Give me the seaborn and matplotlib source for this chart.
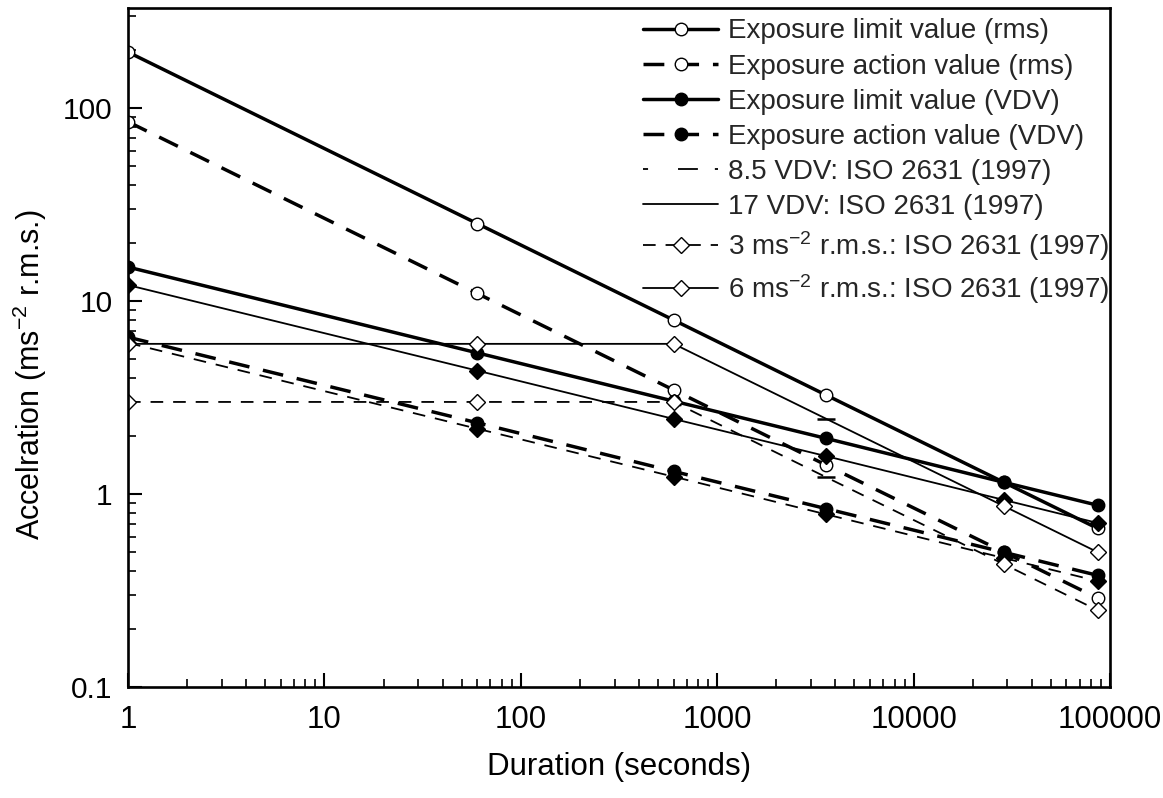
import numpy as np
import pandas as pd
import matplotlib
matplotlib.use("Agg")
import matplotlib.pyplot as plt
import seaborn as sns
from matplotlib.lines import Line2D
from matplotlib.ticker import FixedLocator, FixedFormatter, NullFormatter, LogLocator

# ---------------- data ----------------
durations = [1, 60, 600, 3600, 28800, 86400]

elv_rms = [195, 25.2, 7.97, 3.25, 1.15, 0.664]
eav_rms = [84.9, 10.95, 3.46, 1.41, 0.50, 0.289]
elv_vdv = [15.0, 5.39, 3.03, 1.94, 1.15, 0.875]
eav_vdv = [6.5, 2.34, 1.31, 0.839, 0.499, 0.379]
iso_vdv_85 = [6.07, 2.18, 1.23, 0.784, 0.466, 0.354]
iso_vdv_17 = [12.1, 4.36, 2.45, 1.57, 0.932, 0.708]
iso_rms_3 = [3, 3, 3, 1.22, 0.433, 0.25]
iso_rms_6 = [6, 6, 6, 2.45, 0.866, 0.5]

labels = [
    "Exposure limit value (rms)",
    "Exposure action value (rms)",
    "Exposure limit value (VDV)",
    "Exposure action value (VDV)",
    "8.5 VDV: ISO 2631 (1997)",
    "17 VDV: ISO 2631 (1997)",
    "3 ms$^{-2}$ r.m.s.: ISO 2631 (1997)",
    "6 ms$^{-2}$ r.m.s.: ISO 2631 (1997)",
]

xtick_vals = [1, 10, 100, 1000, 10000, 100000]
xtick_labels = ["1", "10", "100", "1000", "10000", "100000"]
ytick_vals = [0.1, 1, 10, 100]
ytick_labels = ["0.1", "1", "10", "100"]

# ---------------- style ----------------
sns.set_theme(style="white")
plt.rcParams["font.family"] = ["Liberation Sans", "DejaVu Sans"]
plt.rcParams["mathtext.default"] = "regular"

W, H = 1163, 798
fig = plt.figure(figsize=(W / 100, H / 100), dpi=100)
L, R, T, B = 128, 1110, 8, 687
ax = fig.add_axes([L / W, 1 - B / H, (R - L) / W, (B - T) / H])
ax.set_xscale("log")
ax.set_yscale("log")
ax.set_xlim(1, 100000)
ax.set_ylim(0.1, 330)

THICK, THIN = 2.5, 1.3
DASH_THICK = (0, (6, 4))
DASH_THIN = (0, (7, 5.5))
MS_C, MS_D = 9, 8.2

specs = [
    (elv_rms, "-", THICK, "o", "white", MS_C, None),
    (eav_rms, DASH_THICK, THICK, "o", "white", MS_C, None),
    (elv_vdv, "-", THICK, "o", "black", MS_C, None),
    (eav_vdv, DASH_THICK, THICK, "o", "black", MS_C, None),
    (iso_vdv_85, DASH_THIN, THIN, "D", "black", MS_D, None),
    (iso_vdv_17, "-", THIN, "D", "black", MS_D, None),
    (iso_rms_3, DASH_THIN, THIN, "D", "white", MS_D, [0, 1, 2, 4, 5]),
    (iso_rms_6, "-", THIN, "D", "white", MS_D, [0, 1, 2, 4, 5]),
]

for vals, ls, lw, mk, mfc, ms, mev in specs:
    kw = dict(markevery=mev) if mev is not None else {}
    sns.lineplot(x=durations, y=vals, ax=ax, color="black", linestyle=ls,
                 linewidth=lw, marker=mk, markersize=ms, markerfacecolor=mfc,
                 markeredgecolor="black", markeredgewidth=1.0,
                 estimator=None, sort=False, legend=False, **kw)

# bar markers at 3600 s on the ISO r.m.s. lines
for vals in (iso_rms_3, iso_rms_6):
    ax.plot([durations[3]], [vals[3]], linestyle="none", marker="_",
            markersize=13, markeredgewidth=1.8, color="black")

# ---------------- axes ----------------
ax.xaxis.set_major_locator(FixedLocator(xtick_vals))
ax.xaxis.set_major_formatter(FixedFormatter(xtick_labels))
ax.xaxis.set_minor_locator(LogLocator(base=10, subs=np.arange(2, 10)))
ax.xaxis.set_minor_formatter(NullFormatter())
ax.yaxis.set_major_locator(FixedLocator(ytick_vals))
ax.yaxis.set_major_formatter(FixedFormatter(ytick_labels))
ax.yaxis.set_minor_locator(LogLocator(base=10, subs=np.arange(2, 10)))
ax.yaxis.set_minor_formatter(NullFormatter())

ax.tick_params(which="both", direction="in", top=False, right=False,
               left=True, bottom=True, colors="black")
ax.tick_params(which="major", length=10, width=1.5)
ax.tick_params(which="minor", length=5.5, width=1.2)
ax.tick_params(axis="x", which="major", pad=13, labelsize=22.5)
ax.tick_params(axis="y", which="major", pad=11, labelsize=21.5)

for sp in ax.spines.values():
    sp.set_color("black")
    sp.set_linewidth(1.9)
    sp.set_visible(True)

ax.set_xlabel("Duration (seconds)", fontsize=22.5, color="black")
ax.set_ylabel("Accelration (ms$^{-2}$ r.m.s.)", fontsize=22, color="black")
ax.xaxis.set_label_coords(0.5, -0.096)
ax.yaxis.set_label_coords(-0.08, 0.46)
ax.grid(False)

# ---------------- legend ----------------
handles = []
leg_specs = [
    ("-", THICK, "o", "white", MS_C),
    (DASH_THICK, THICK, "o", "white", MS_C),
    ("-", THICK, "o", "black", MS_C),
    (DASH_THICK, THICK, "o", "black", MS_C),
    ((0, (2.8, 16.6, 11.0, 9.4, 2.4, 60)), THIN, "None", "black", MS_D),
    ("-", THIN, "None", "black", MS_D),
    (DASH_THIN, THIN, "D", "white", MS_D),
    ("-", THIN, "D", "white", MS_D),
]
for ls, lw, mk, mfc, ms in leg_specs:
    handles.append(Line2D([], [], color="black", linestyle=ls, linewidth=lw,
                          marker=mk, markersize=ms, markerfacecolor=mfc,
                          markeredgecolor="black", markeredgewidth=1.0))
ax.legend(handles, labels, loc="upper right", bbox_to_anchor=(1.006, 0.995),
          frameon=False, fontsize=20, handlelength=2.7, handletextpad=0.33,
          labelspacing=0.33, borderpad=0.2, borderaxespad=0.05)

fig.savefig("out.png", dpi=100, facecolor="white")
